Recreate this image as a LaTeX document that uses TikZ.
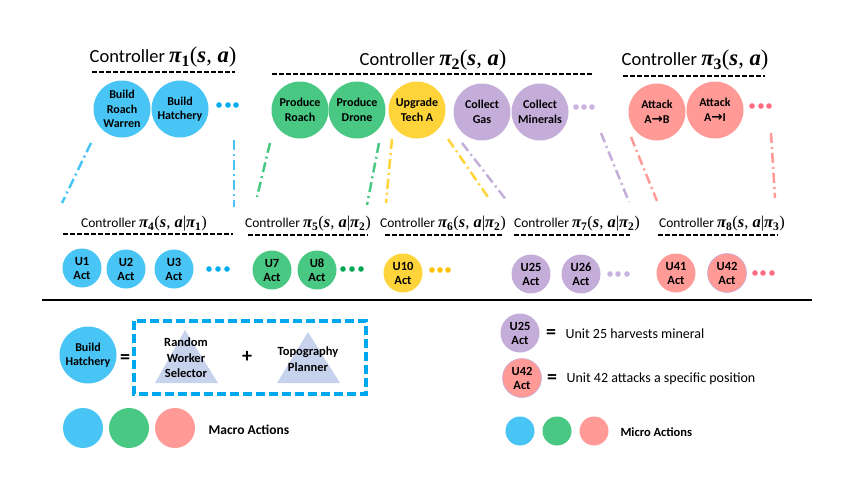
\documentclass[tikz,border=0pt]{standalone}
\usepackage{fontspec}
\setmainfont{Carlito}
\newfontfamily\mfont[Scale=1.22]{Liberation Serif}
\newfontfamily\dfont{DejaVu Sans}
\newcommand\bI[1]{{\mfont\bfseries\itshape #1}}
\newcommand\uP[1]{{\mfont #1}}
\newcommand\sB[1]{\textsubscript{\mfont\bfseries #1}}
\newcommand\arr{{\dfont\bfseries\fontsize{13.5}{13}\selectfont →}}
\definecolor{cblue}{HTML}{48C5F5}
\definecolor{cgreen}{HTML}{48C882}
\definecolor{cyellow}{HTML}{FFD43B}
\definecolor{cpurple}{HTML}{C5ADDA}
\definecolor{cred}{HTML}{FF9A96}
\definecolor{dblue}{HTML}{00AEEF}
\definecolor{dgreen}{HTML}{00A651}
\definecolor{dyellow}{HTML}{FFC000}
\definecolor{dpurple}{HTML}{C9B3E0}
\definecolor{dred}{HTML}{FF6B80}
\definecolor{boxblue}{HTML}{00A8F0}
\definecolor{tri}{HTML}{C7D2EC}
\begin{document}
\begin{tikzpicture}[x=1pt,y=-1pt,
  big/.style={circle, minimum size=57pt, inner sep=0pt, align=center, font=\fontsize{12}{14.5}\selectfont\bfseries},
  small/.style={circle, minimum size=39pt, inner sep=0pt, align=center, font=\fontsize{12.5}{14}\selectfont\bfseries},
  ctrl/.style={font=\fontsize{18.5}{20}\selectfont},
  subctrl/.style={font=\fontsize{13.5}{15}\selectfont},
  uline/.style={line width=1.3pt, dash pattern=on 5pt off 2pt},
  link/.style={line width=2.5pt, dash pattern=on 10pt off 4pt on 2pt off 4pt},
  lbl/.style={font=\fontsize{14}{16}\selectfont, anchor=west},
  eqs/.style={font=\fontsize{20}{20}\selectfont\bfseries},
  tritext/.style={align=center, font=\fontsize{12.5}{15.5}\selectfont\bfseries},
  dotr/.style={radius=2.8pt}
]
\useasboundingbox (0,0) rectangle (854,490);

% ---------- top controllers ----------
\node[ctrl] (c1) at (163,57) {Controller \bI{π}\sB{1}\uP{(}\bI{s}\uP{, }\bI{a}\uP{)}};
\node[ctrl] (c2) at (433,60) {Controller \bI{π}\sB{2}\uP{(}\bI{s}\uP{, }\bI{a}\uP{)}};
\node[ctrl] (c3) at (695,60) {Controller \bI{π}\sB{3}\uP{(}\bI{s}\uP{, }\bI{a}\uP{)}};
\draw[uline] (92,72) -- (235,72);
\draw[uline] (272,74) -- (593,74);
\draw[uline] (623,76) -- (765,76);

\node[big, fill=cblue] (brw) at (122,109) {Build\\Roach\\Warren};
\node[big, fill=cblue] (bh) at (180,109) {Build\\Hatchery};
\node[big, fill=cgreen] (pr) at (300,110) {Produce\\Roach};
\node[big, fill=cgreen] (pd) at (357,110) {Produce\\Drone};
\node[big, fill=cyellow] (ut) at (417,110) {Upgrade\\Tech A};
\node[big, fill=cpurple] (cg) at (482,112) {Collect\\Gas};
\node[big, fill=cpurple] (cm) at (540,112) {Collect\\Minerals};
\node[big, fill=cred] (aab) at (657,112) {Attack\\A\arr B};
\node[big, fill=cred] (aai) at (715,110) {Attack\\A\arr I};

\fill[dblue] (219,105) circle[dotr] (228,105) circle[dotr] (236,105) circle[dotr];
\fill[dpurple] (576,107) circle[dotr] (584,107) circle[dotr] (592,107) circle[dotr];
\fill[dred] (752,106) circle[dotr] (761,106) circle[dotr] (769,106) circle[dotr];

% ---------- connectors ----------
\coordinate (a1) at (91,143);  \coordinate (b1) at (62,203);
\coordinate (a2) at (234,140); \coordinate (b2) at (234,207);
\coordinate (a3) at (270,143); \coordinate (b3) at (257,197);
\coordinate (a4) at (379,143); \coordinate (b4) at (367,205);
\coordinate (a5) at (392,139); \coordinate (b5) at (386,203);
\coordinate (a6) at (448,139); \coordinate (b6) at (490,200);
\coordinate (a7) at (462,143); \coordinate (b7) at (507,201);
\coordinate (a8) at (601,133); \coordinate (b8) at (629,202);
\coordinate (a9) at (631,137); \coordinate (b9) at (657,201);
\coordinate (a10) at (771,133); \coordinate (b10) at (775,198);
\draw[link, cblue] (a1) -- (b1);
\draw[link, cblue] (a2) -- (b2);
\draw[link, cgreen] (a3) -- (b3);
\draw[link, cgreen] (a4) -- (b4);
\draw[link, cyellow] (a5) -- (b5);
\draw[link, cyellow] (a6) -- (b6);
\draw[link, cpurple] (a7) -- (b7);
\draw[link, cpurple] (a8) -- (b8);
\draw[link, cred] (a9) -- (b9);
\draw[link, cred] (a10) -- (b10);

% ---------- sub controllers ----------
\node[subctrl] (c4) at (144,224) {Controller \bI{π}\sB{4}\uP{(}\bI{s}\uP{, }\bI{a}\uP{|}\bI{π}\sB{1}\uP{)}};
\node[subctrl] (c5) at (308,224) {Controller \bI{π}\sB{5}\uP{(}\bI{s}\uP{, }\bI{a}\uP{|}\bI{π}\sB{2}\uP{)}};
\node[subctrl] (c6) at (443,224) {Controller \bI{π}\sB{6}\uP{(}\bI{s}\uP{, }\bI{a}\uP{|}\bI{π}\sB{2}\uP{)}};
\node[subctrl] (c7) at (577,224) {Controller \bI{π}\sB{7}\uP{(}\bI{s}\uP{, }\bI{a}\uP{|}\bI{π}\sB{2}\uP{)}};
\node[subctrl] (c8) at (722,224) {Controller \bI{π}\sB{8}\uP{(}\bI{s}\uP{, }\bI{a}\uP{|}\bI{π}\sB{3}\uP{)}};
\draw[uline] (63,234) -- (233,234);
\draw[uline] (248,235) -- (368,235);
\draw[uline] (385,235) -- (502,235);
\draw[uline] (514,235) -- (630,235);
\draw[uline] (658,235) -- (778,235);

\node[small, fill=cblue] (u1) at (82,268) {U1\\Act};
\node[small, fill=cblue] (u2) at (126,269) {U2\\Act};
\node[small, fill=cblue] (u3) at (174,269) {U3\\Act};
\node[small, fill=cgreen] (u7) at (272,270) {U7\\Act};
\node[small, fill=cgreen] (u8) at (317,270) {U8\\Act};
\node[small, fill=cyellow] (u10) at (403,273) {U10\\Act};
\node[small, fill=cpurple] (u25) at (531,274) {U25\\Act};
\node[small, fill=cpurple] (u26) at (581,274) {U26\\Act};
\node[small, fill=cred] (u41) at (676,273) {U41\\Act};
\node[small, fill=cred, draw=cpurple, line width=0.6pt] (u42) at (727,273) {U42\\Act};

\fill[dblue] (209,269) circle[dotr] (218,269) circle[dotr] (227,269) circle[dotr];
\fill[dgreen] (343,269) circle[dotr] (352,269) circle[dotr] (361,269) circle[dotr];
\fill[dyellow] (432,270) circle[dotr] (440,270) circle[dotr] (448,270) circle[dotr];
\fill[dpurple] (610,274) circle[dotr] (618,274) circle[dotr] (627,274) circle[dotr];
\fill[dred] (755,273) circle[dotr] (763,273) circle[dotr] (772,273) circle[dotr];

% ---------- separator ----------
\draw[line width=2.5pt] (42,300) -- (812,300);

% ---------- legend left ----------
\node[big, fill=cblue] (lbh) at (88,355) {Build\\Hatchery};
\node[eqs] (eq1) at (125,359) {=};
\draw[boxblue, line width=3.2pt, dash pattern=on 9pt off 4pt] (134,321) rectangle (366,394);
\fill[tri] (155,383) -- (185,330) -- (218,383) -- cycle;
\fill[tri] (277,383) -- (308,332) -- (340,383) -- cycle;
\node[tritext] (rws) at (186,358) {Random\\Worker\\Selector};
\node[font=\fontsize{20}{20}\selectfont\bfseries] (plus) at (247,357) {+};
\node[tritext] (tp) at (308,359) {Topography\\Planner};

\fill[cblue] (83,428) circle[radius=20pt];
\fill[cgreen] (129,428) circle[radius=20pt];
\fill[cred] (175,428) circle[radius=20pt];
\node[lbl, font=\fontsize{13.5}{15}\selectfont\bfseries] (macro) at (205,430) {Macro Actions};

% ---------- legend right ----------
\node[small, fill=cpurple] (l25) at (520,333) {U25\\Act};
\node[eqs] (eq2) at (551,334) {=};
\node[lbl] (t25) at (562,334) {Unit 25 harvests mineral};
\node[small, fill=cred, draw=cpurple, line width=0.6pt] (l42) at (522,378) {U42\\Act};
\node[eqs] (eq3) at (552,379) {=};
\node[lbl] (t42) at (563,379) {Unit 42 attacks a specific position};

\fill[cblue] (520,431) circle[radius=14.5pt];
\fill[cgreen] (557,431) circle[radius=14.5pt];
\fill[cred] (594,431) circle[radius=14.5pt];
\node[lbl, font=\fontsize{12.5}{14}\selectfont\bfseries] (micro) at (617,432) {Micro Actions};
\end{tikzpicture}
\end{document}
